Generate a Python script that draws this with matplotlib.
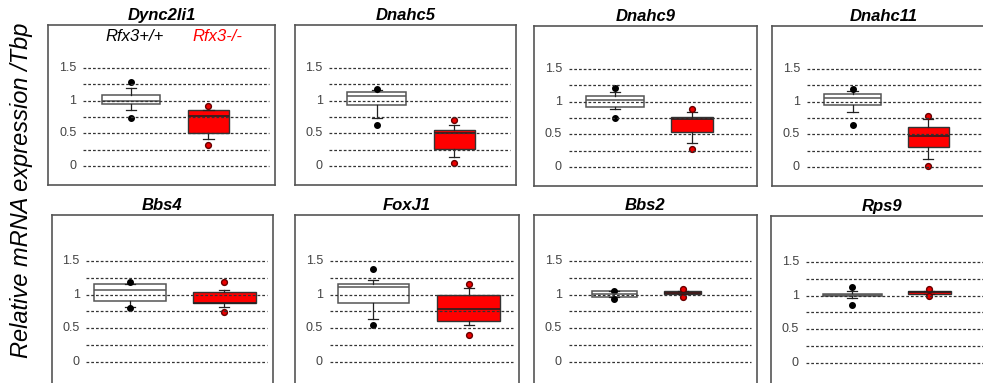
import matplotlib
matplotlib.use("Agg")
import matplotlib.pyplot as plt

plt.rcParams["font.family"] = ["Liberation Sans", "DejaVu Sans"]

# --- data ---
genes = ["Dync2li1", "Dnahc5", "Dnahc9", "Dnahc11", "Bbs4", "FoxJ1", "Bbs2", "Rps9"]
group_labels = ["Rfx3+/+", "Rfx3-/-"]
yticks = [0, 0.5, 1, 1.5]

wt_q1 = [0.945, 0.94, 0.915, 0.955, 0.90, 0.874, 0.96, 0.99]
wt_med = [1.00, 1.07, 1.03, 1.05, 1.07, 1.11, 1.003, 1.01]
wt_q3 = [1.09, 1.13, 1.085, 1.125, 1.155, 1.155, 1.057, 1.03]
wt_lo = [0.86, 0.74, 0.885, 0.84, 0.82, 0.64, 0.96, 0.97]
wt_hi = [1.19, 1.17, 1.15, 1.17, 1.155, 1.21, 1.057, 1.07]
wt_out = [[1.29, 0.73], [1.18, 0.63], [1.21, 0.75], [1.19, 0.65],
          [1.18, 0.80], [1.38, 0.55], [1.06, 0.935], [1.12, 0.86]]

ko_q1 = [0.51, 0.255, 0.53, 0.31, 0.873, 0.607, 1.013, 1.023]
ko_med = [0.765, 0.51, 0.74, 0.47, 0.88, 0.78, 1.03, 1.05]
ko_q3 = [0.86, 0.55, 0.77, 0.61, 1.035, 0.99, 1.047, 1.067]
ko_lo = [0.42, 0.14, 0.375, 0.12, 0.81, 0.55, 1.013, 1.023]
ko_hi = [0.86, 0.63, 0.84, 0.73, 1.07, 1.09, 1.047, 1.067]
ko_out = [[0.92, 0.33], [0.70, 0.05], [0.89, 0.28], [0.78, 0.01],
          [1.185, 0.74], [1.16, 0.40], [1.08, 0.97], [1.09, 1.00]]

# --- layout (pixels in a 983x383 figure) ---
W, H = 983, 383
frames = [(48, 275, 25, 185), (295, 516, 25, 185), (534, 757, 26, 186), (772, 995, 26, 186),
          (52, 273, 215, 390), (295, 519, 215, 390), (534, 757, 215, 390), (771, 994, 216, 391)]
ylims = [(-0.29, 2.16)] * 4 + [(-0.416, 2.18)] * 4
box_pos = [(0.366, 0.707), (0.37, 0.72), (0.363, 0.71), (0.361, 0.70),
           (0.353, 0.78), (0.35, 0.775), (0.36, 0.666), (0.365, 0.71)]
box_w = [(0.255, 0.18), (0.268, 0.186), (0.26, 0.188), (0.26, 0.184),
         (0.326, 0.285), (0.317, 0.28), (0.20, 0.166), (0.265, 0.19)]

fig = plt.figure(figsize=(W / 100, H / 100), dpi=100)


def stats(q1, med, q3, lo, hi, out):
    return dict(q1=q1, med=med, q3=q3, whislo=lo, whishi=hi, fliers=out)


for i, g in enumerate(genes):
    x0, x1, y0, y1 = frames[i]
    ax = fig.add_axes([x0 / W, 1 - y1 / H, (x1 - x0) / W, (y1 - y0) / H])
    ax.set_xlim(0, 1); ax.set_ylim(*ylims[i])
    ax.set_xticks([]); ax.set_yticks([])
    for s in ax.spines.values():
        s.set_color("#555555"); s.set_linewidth(1.2)

    for v in [0, 0.25, 0.5, 0.75, 1.0, 1.25, 1.5]:
        ax.hlines(v, 0.155, 0.975, colors="#333333", linestyles=(0, (2.2, 1.6)), lw=0.9, zorder=3)
    for v in yticks:
        ax.text(0.125, v, f"{v:g}", ha="right", va="center", fontsize=9, color="#444444")

    wt = stats(wt_q1[i], wt_med[i], wt_q3[i], wt_lo[i], wt_hi[i], wt_out[i])
    ko = stats(ko_q1[i], ko_med[i], ko_q3[i], ko_lo[i], ko_hi[i], ko_out[i])
    common = dict(showfliers=True, patch_artist=True, manage_ticks=False, zorder=2,
                  whiskerprops=dict(color="#222222", lw=0.9),
                  capprops=dict(color="#222222", lw=0.9))
    ax.bxp([wt], positions=[box_pos[i][0]], widths=[box_w[i][0]], capwidths=[0.045],
           boxprops=dict(facecolor="white", edgecolor="#555555", lw=1.1),
           medianprops=dict(color="#555555", lw=1.1),
           flierprops=dict(marker="o", markerfacecolor="black", markeredgecolor="black", markersize=4),
           **common)
    ax.bxp([ko], positions=[box_pos[i][1]], widths=[box_w[i][1]], capwidths=[0.045],
           boxprops=dict(facecolor="#ff0000", edgecolor="#333333", lw=1.0),
           medianprops=dict(color="#222222", lw=1.2),
           flierprops=dict(marker="o", markerfacecolor="#ee0000", markeredgecolor="#660000", markersize=4.2),
           **common)

    ax.text(0.5, 1.0 + 5 / (y1 - y0), g, transform=ax.transAxes, ha="center", va="baseline",
            fontsize=12, fontweight="bold", fontstyle="italic")
    if i == 0:
        ax.text(0.383, 0.9, group_labels[0], transform=ax.transAxes, ha="center", va="baseline",
                fontsize=12, fontstyle="italic", color="black")
        ax.text(0.745, 0.9, group_labels[1], transform=ax.transAxes, ha="center", va="baseline",
                fontsize=12, fontstyle="italic", color="#ff0000")

fig.text(22 / W, 1 - 190 / H, "Relative mRNA expression /Tbp", rotation=90, ha="center", va="center",
         fontsize=17, fontstyle="italic")

fig.savefig("out.png", dpi=100)
